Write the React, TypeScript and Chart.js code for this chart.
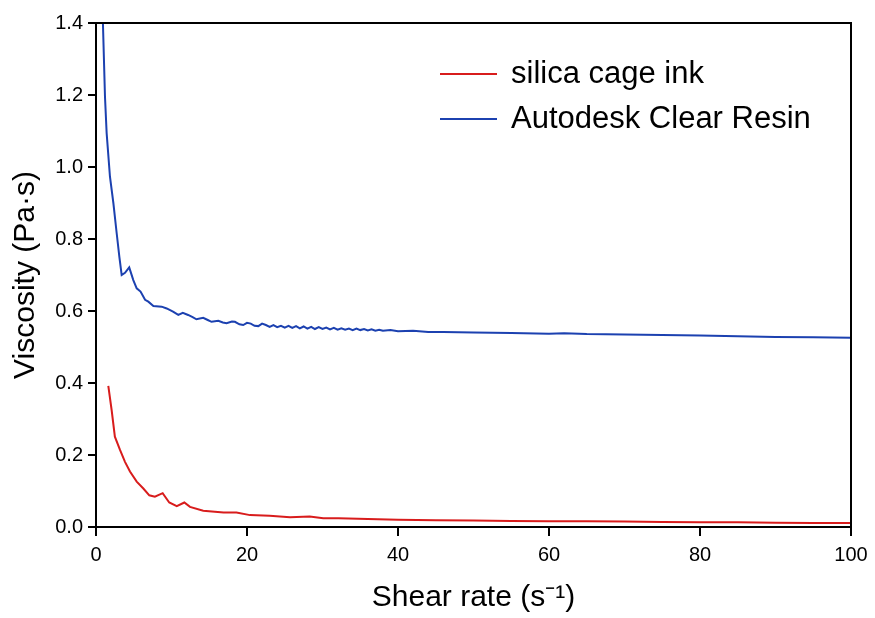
import React, { useEffect, useRef } from "react";
import { Chart, registerables } from "chart.js";

Chart.register(...registerables);

// ---- data ----
const seriesNames = ["silica cage ink", "Autodesk Clear Resin"];

const redX = [1.63, 2.07, 2.5, 3.18, 3.84, 4.5, 5.39, 6.27, 7.06, 7.8, 8.83, 9.7, 10.7, 11.7, 12.45, 14.2, 16.9, 18.6, 20.4, 23.0, 25.7, 28.3, 30.1, 32.1, 36, 40, 45, 50, 55, 60, 65, 70, 75, 80, 85, 90, 95, 100];
const redY = [0.392, 0.325, 0.251, 0.214, 0.181, 0.154, 0.126, 0.107, 0.088, 0.084, 0.094, 0.068, 0.058, 0.068, 0.056, 0.045, 0.040, 0.040, 0.033, 0.031, 0.027, 0.029, 0.024, 0.024, 0.022, 0.020, 0.019, 0.018, 0.017, 0.016, 0.016, 0.015, 0.014, 0.013, 0.013, 0.012, 0.011, 0.011];

const blueX = [0.85, 1.19, 1.41, 1.85, 2.3, 2.74, 3.09, 3.4, 3.84, 4.4, 4.94, 5.39, 5.9, 6.5, 6.93, 7.6, 8.7, 9.36, 10.2, 10.9, 11.5, 12.2, 12.8, 13.3, 14.2, 14.8, 15.3, 16.2, 16.8, 17.3, 18.0, 18.4, 19.0, 19.5, 20.0, 20.5, 21.0, 21.5, 22.0, 22.5, 23.0, 23.5, 24.0, 24.5, 25.0, 25.5, 26.0, 26.5, 27.0, 27.5, 28.0, 28.5, 29.0, 29.5, 30.0, 30.5, 31.0, 31.5, 32.0, 32.5, 33.0, 33.5, 34.0, 34.5, 35.0, 35.5, 36.0, 36.5, 37.0, 37.5, 38.0, 39, 40, 42, 44, 46, 48, 50, 55, 60, 62, 65, 70, 75, 80, 85, 90, 95, 100];
const blueY = [1.45, 1.195, 1.094, 0.973, 0.900, 0.816, 0.751, 0.700, 0.706, 0.721, 0.686, 0.663, 0.654, 0.631, 0.626, 0.614, 0.612, 0.607, 0.598, 0.589, 0.595, 0.589, 0.583, 0.577, 0.581, 0.575, 0.570, 0.573, 0.568, 0.566, 0.571, 0.570, 0.563, 0.561, 0.567, 0.565, 0.559, 0.558, 0.565, 0.561, 0.556, 0.561, 0.555, 0.559, 0.554, 0.559, 0.553, 0.558, 0.552, 0.557, 0.551, 0.556, 0.550, 0.555, 0.550, 0.554, 0.549, 0.553, 0.548, 0.552, 0.548, 0.551, 0.547, 0.551, 0.547, 0.550, 0.546, 0.549, 0.545, 0.548, 0.545, 0.547, 0.544, 0.545, 0.542, 0.542, 0.541, 0.540, 0.539, 0.537, 0.538, 0.536, 0.535, 0.533, 0.532, 0.530, 0.528, 0.527, 0.526];

const xTicks = [0, 20, 40, 60, 80, 100];
const yTicks = [0, 0.2, 0.4, 0.6, 0.8, 1.0, 1.2, 1.4];

const xTitle = "Shear rate (s\u207B\u00B9)";
const yTitle = "Viscosity (Pa\u00B7s)";

const RED = "#d81c1c";
const BLUE = "#1c41b0";
const FONT = '"Liberation Sans", Arial, sans-serif';

const framePlugin = {
  id: "frameAndLegend",
  afterDraw(chart: any) {
    const { ctx, chartArea } = chart;
    ctx.save();
    ctx.strokeStyle = "#000";
    ctx.lineWidth = 2;
    ctx.strokeRect(chartArea.left, chartArea.top, chartArea.right - chartArea.left, chartArea.bottom - chartArea.top);

    // legend inside the plot area
    const rows = [74, 119];
    chart.data.datasets.forEach((ds: any, i: number) => {
      const y = rows[i];
      ctx.strokeStyle = ds.borderColor;
      ctx.lineWidth = 2;
      ctx.beginPath();
      ctx.moveTo(440, y);
      ctx.lineTo(497, y);
      ctx.stroke();
      ctx.fillStyle = "#000";
      ctx.font = `31px ${FONT}`;
      ctx.textAlign = "left";
      ctx.textBaseline = "middle";
      ctx.fillText(ds.label, 511, y);
    });
    ctx.restore();
  },
};

export default function App() {
  const ref = useRef<HTMLCanvasElement>(null);

  useEffect(() => {
    document.body.style.margin = "0";
    const canvas = ref.current;
    if (!canvas) return;
    const chart = new Chart(canvas, {
      type: "line",
      data: {
        datasets: [
          {
            label: seriesNames[0],
            data: redX.map((x, i) => ({ x, y: redY[i] })),
            borderColor: RED,
            borderWidth: 2,
            pointRadius: 0,
            tension: 0,
            fill: false,
          },
          {
            label: seriesNames[1],
            data: blueX.map((x, i) => ({ x, y: blueY[i] })),
            borderColor: BLUE,
            borderWidth: 2,
            pointRadius: 0,
            tension: 0,
            fill: false,
          },
        ],
      },
      options: {
        responsive: false,
        animation: false,
        layout: { padding: { top: 23, right: 24, left: 0, bottom: 0 } },
        plugins: { legend: { display: false }, tooltip: { enabled: false } },
        scales: {
          x: {
            type: "linear",
            min: 0,
            max: 100,
            afterBuildTicks: (s: any) => {
              s.ticks = xTicks.map((v) => ({ value: v }));
            },
            afterFit: (s: any) => {
              s.height = 91;
            },
            ticks: {
              color: "#000",
              font: { family: FONT, size: 20 },
              padding: 7,
              maxRotation: 0,
              callback: (v: any) => String(v),
            },
            grid: { display: true, drawOnChartArea: false, drawTicks: true, tickLength: 9, color: "#000", lineWidth: 2 },
            border: { display: true, color: "#000", width: 2 },
            title: { display: true, text: xTitle, color: "#000", font: { family: FONT, size: 30 }, padding: { top: 0, bottom: 2 } },
          },
          y: {
            type: "linear",
            min: 0,
            max: 1.4,
            afterBuildTicks: (s: any) => {
              s.ticks = yTicks.map((v) => ({ value: v }));
            },
            afterFit: (s: any) => {
              s.width = 96;
            },
            ticks: {
              color: "#000",
              font: { family: FONT, size: 20 },
              padding: 5,
              callback: (v: any) => Number(v).toFixed(1),
            },
            grid: { display: true, drawOnChartArea: false, drawTicks: true, tickLength: 8, color: "#000", lineWidth: 2 },
            border: { display: true, color: "#000", width: 2 },
            title: { display: true, text: yTitle, color: "#000", font: { family: FONT, size: 30 }, padding: { top: 8, bottom: 0 } },
          },
        },
      },
      plugins: [framePlugin],
    } as any);
    return () => chart.destroy();
  }, []);

  return (
    <div style={{ width: 875, height: 618, background: "#fff" }}>
      <canvas ref={ref} width={875} height={618} />
    </div>
  );
}
